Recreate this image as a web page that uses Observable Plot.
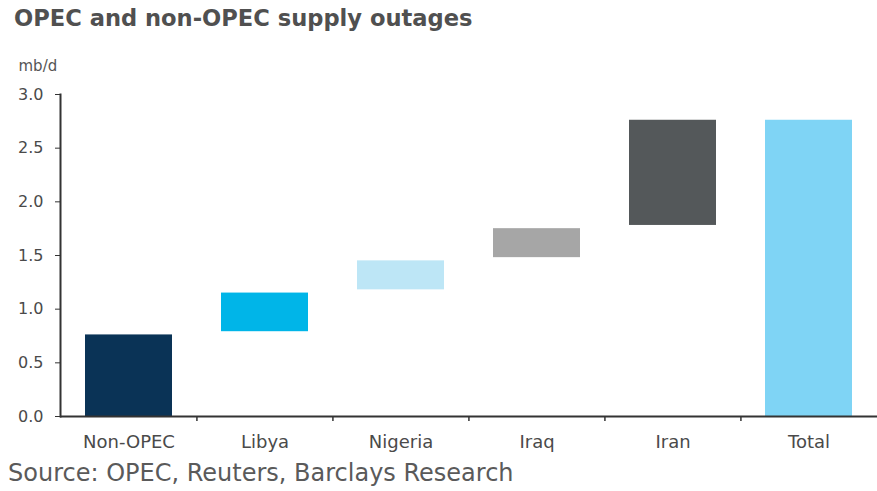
<!DOCTYPE html>
<html>
<head>
<meta charset="utf-8">
<script src="https://cdn.jsdelivr.net/npm/d3@7"></script>
<script src="https://cdn.jsdelivr.net/npm/@observablehq/plot@0.6"></script>
<style>
  html, body { margin: 0; padding: 0; background: #fff; width: 877px; height: 491px; overflow: hidden; }
  #title { position: absolute; left: 14px; top: 5px; font: bold 22.6px "DejaVu Sans", sans-serif; line-height: 1.164; color: #505050; white-space: nowrap; }
  #chart { position: absolute; left: 0; top: 40px; }
  #caption { position: absolute; left: 8px; top: 460px; font: 24px "DejaVu Sans", sans-serif; line-height: 1.164; color: #5a5a5a; white-space: nowrap; }
</style>
</head>
<body>
<div id="title">OPEC and non-OPEC supply outages</div>
<div id="chart"></div>
<div id="caption">Source: OPEC, Reuters, Barclays Research</div>
<script>
const categories = ["Non-OPEC", "Libya", "Nigeria", "Iraq", "Iran", "Total"];
const lows  = [0, 0.79, 1.18, 1.48, 1.78, 0];
const highs = [0.76, 1.15, 1.45, 1.75, 2.76, 2.76];
const colors = ["#0a3356", "#00b5e8", "#bde6f6", "#a6a6a6", "#54585a", "#7fd4f5"];
const yTicks = [0, 0.5, 1.0, 1.5, 2.0, 2.5, 3.0];
const unitLabel = "mb/d";

const data = categories.map((c, i) => ({cat: c, low: lows[i], high: highs[i]}));

const W = 877, H = 412, mL = 60, mR = 0, mT = 54, mB = 36;
const step = (W - mL - mR) / categories.length;

const chart = Plot.plot({
  width: W, height: H,
  marginLeft: mL, marginRight: mR, marginTop: mT, marginBottom: mB,
  style: {fontFamily: "DejaVu Sans, sans-serif", color: "#4a4a4a", background: "#fff"},
  x: {domain: categories, paddingInner: 0.36, paddingOuter: 0.18, label: null},
  y: {domain: [0, 3], label: null},
  color: {domain: categories, range: colors},
  marks: [
    Plot.barY(data, {x: "cat", y1: "low", y2: "high", fill: "cat"}),
    Plot.axisY({ticks: yTicks, tickFormat: d3.format(".1f"), tickSize: 5, tickPadding: 12, fontSize: 16, stroke: "#333", label: null}),
    Plot.axisX({tickSize: 0, tickPadding: 19, fontSize: 18, label: null}),
    Plot.ruleX(categories.slice(1), {x: d => d, y1: 0, y2: 0, insetBottom: -5, dx: -step / 2, stroke: "#333", strokeWidth: 1.5}),
    Plot.ruleY([0], {stroke: "#333", strokeWidth: 2}),
    Plot.frame({anchor: "left", stroke: "#333", strokeWidth: 2}),
    Plot.text([unitLabel], {frameAnchor: "top-left", text: d => d, dx: -42, dy: -34, textAnchor: "start", fontSize: 15, fill: "#555"})
  ]
});
document.getElementById("chart").appendChild(chart);
</script>
</body>
</html>
